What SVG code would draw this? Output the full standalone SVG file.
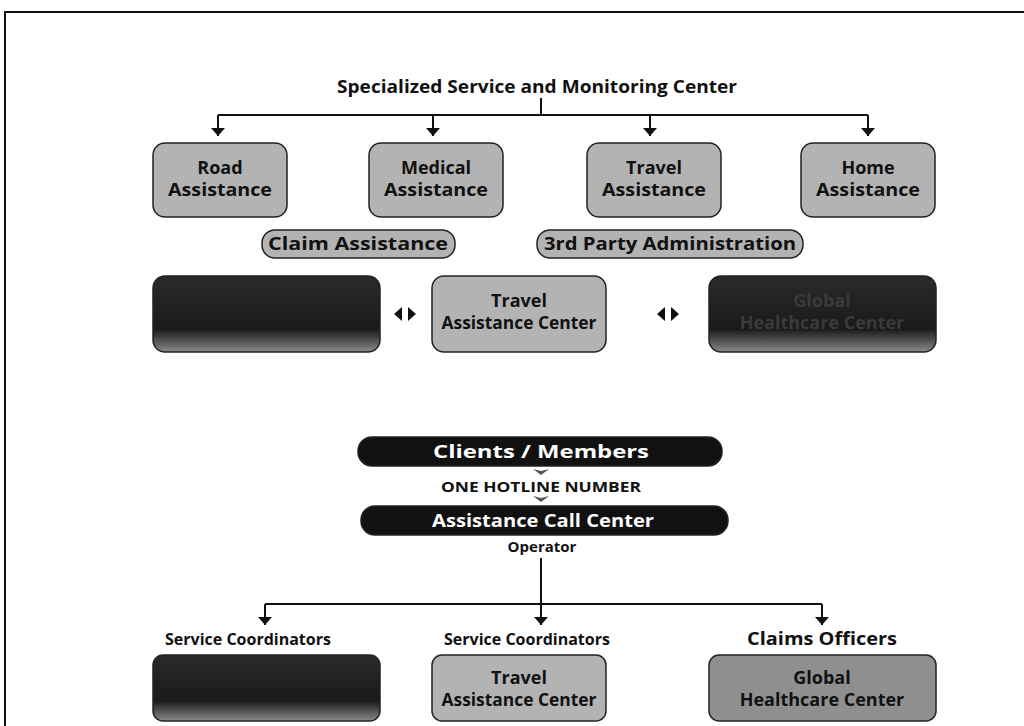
<svg xmlns="http://www.w3.org/2000/svg" width="1024" height="726" viewBox="0 0 1024 726">
<style>
.t{font-family:"Open Sans","Liberation Sans",sans-serif;font-weight:bold;fill:#111;text-anchor:middle}
.bx{fill:#b3b3b3;stroke:#222;stroke-width:1.5}
.dk{fill:url(#dkg);stroke:#222;stroke-width:1.5}
.pl{fill:#111;stroke:#222;stroke-width:1.5}
.ln{stroke:#111;stroke-width:2;fill:none}
</style>
<defs>
<linearGradient id="dkg" x1="0" y1="0" x2="0" y2="1">
<stop offset="0" stop-color="#2a2a2a"/><stop offset="0.7" stop-color="#1a1a1a"/><stop offset="1" stop-color="#8a8a8a"/>
</linearGradient>
<marker id="ah" markerWidth="9" markerHeight="14" refX="8" refY="7" orient="auto" markerUnits="userSpaceOnUse">
<path d="M0,0 L8,7 L0,14 Z" fill="#111"/>
</marker>
</defs>
<rect width="1024" height="726" fill="#fff"/>
<g id="frame"><path d="M5,726 V12 H1024" class="ln" stroke-width="2"/></g>
<g id="connectors">
<path class="ln" d="M541,98 V115 M218,115 H868"/>
<path class="ln" d="M218,115 V136" marker-end="url(#ah)"/>
<path class="ln" d="M433,115 V136" marker-end="url(#ah)"/>
<path class="ln" d="M650,115 V136" marker-end="url(#ah)"/>
<path class="ln" d="M868,115 V136" marker-end="url(#ah)"/>
<path d="M394,314 l8,-7 v14 Z M408,307 l8,7 l-8,7 Z" fill="#111"/>
<path d="M657,314 l8,-7 v14 Z M671,307 l8,7 l-8,7 Z" fill="#111"/>
<path d="M533,469 l8,6 l8,-6 l-8,2 Z" fill="#555"/>
<path d="M533,496 l8,6 l8,-6 l-8,2 Z" fill="#555"/>
<path class="ln" d="M541,558 V604 M265,604 H822"/>
<path class="ln" d="M265,604 V625" marker-end="url(#ah)"/>
<path class="ln" d="M541,604 V625" marker-end="url(#ah)"/>
<path class="ln" d="M822,604 V625" marker-end="url(#ah)"/>
</g>
<g id="title"><text class="t" x="537" y="93" font-size="18" textLength="400" lengthAdjust="spacingAndGlyphs">Specialized Service and Monitoring Center</text></g>
<g id="road"><rect class="bx" x="153" y="143" width="134" height="74" rx="12"/><text class="t" x="220" y="174" font-size="18">Road</text><text class="t" x="220" y="196" font-size="18" textLength="104" lengthAdjust="spacingAndGlyphs">Assistance</text></g>
<g id="medical"><rect class="bx" x="369" y="143" width="134" height="74" rx="12"/><text class="t" x="436" y="174" font-size="18">Medical</text><text class="t" x="436" y="196" font-size="18" textLength="104" lengthAdjust="spacingAndGlyphs">Assistance</text></g>
<g id="travel"><rect class="bx" x="587" y="143" width="134" height="74" rx="12"/><text class="t" x="654" y="174" font-size="18">Travel</text><text class="t" x="654" y="196" font-size="18" textLength="104" lengthAdjust="spacingAndGlyphs">Assistance</text></g>
<g id="home"><rect class="bx" x="801" y="143" width="134" height="74" rx="12"/><text class="t" x="868" y="174" font-size="18">Home</text><text class="t" x="868" y="196" font-size="18" textLength="104" lengthAdjust="spacingAndGlyphs">Assistance</text></g>
<g id="claim"><rect class="bx" x="262" y="230" width="193" height="28" rx="13"/><text class="t" x="358" y="250" font-size="18" textLength="180" lengthAdjust="spacingAndGlyphs">Claim Assistance</text></g>
<g id="tpa"><rect class="bx" x="537" y="230" width="266" height="28" rx="13"/><text class="t" x="670" y="250" font-size="18" textLength="252" lengthAdjust="spacingAndGlyphs">3rd Party Administration</text></g>
<g id="darkL1"><rect class="dk" x="153" y="276" width="227" height="76" rx="12"/></g>
<g id="tac1"><rect class="bx" x="432" y="276" width="174" height="76" rx="12"/><text class="t" x="519" y="307" font-size="18">Travel</text><text class="t" x="519" y="329" font-size="18" textLength="155" lengthAdjust="spacingAndGlyphs">Assistance Center</text></g>
<g id="darkR1"><rect class="dk" x="709" y="276" width="227" height="76" rx="12"/><text class="t" x="822" y="307" font-size="18" style="fill:#3a3a3a">Global</text><text class="t" x="822" y="329" font-size="18" style="fill:#3a3a3a">Healthcare Center</text></g>
<g id="clients"><rect class="pl" x="358" y="437" width="364" height="29" rx="14"/><text class="t" x="541" y="458" font-size="17" textLength="216" lengthAdjust="spacingAndGlyphs" style="fill:#fff">Clients / Members</text></g>
<g id="hotline"><text class="t" x="541" y="492" font-size="15" textLength="200" lengthAdjust="spacingAndGlyphs">ONE HOTLINE NUMBER</text></g>
<g id="callcenter"><rect class="pl" x="361" y="506" width="367" height="29" rx="14"/><text class="t" x="543" y="527" font-size="17" textLength="222" lengthAdjust="spacingAndGlyphs" style="fill:#fff">Assistance Call Center</text></g>
<g id="operator"><text class="t" x="542" y="552" font-size="15">Operator</text></g>
<g id="sc1"><text class="t" x="248" y="645" font-size="16">Service Coordinators</text><rect class="dk" x="153" y="655" width="227" height="66" rx="10"/></g>
<g id="sc2"><text class="t" x="527" y="645" font-size="16">Service Coordinators</text><rect class="bx" x="432" y="655" width="174" height="66" rx="10"/><text class="t" x="519" y="684" font-size="18">Travel</text><text class="t" x="519" y="706" font-size="18" textLength="155" lengthAdjust="spacingAndGlyphs">Assistance Center</text></g>
<g id="co"><text class="t" x="822" y="645" font-size="17" textLength="150" lengthAdjust="spacingAndGlyphs">Claims Officers</text><rect class="bx" x="709" y="655" width="227" height="66" rx="10" style="fill:#8f8f8f"/><text class="t" x="822" y="684" font-size="18">Global</text><text class="t" x="822" y="706" font-size="18">Healthcare Center</text></g>
</svg>
